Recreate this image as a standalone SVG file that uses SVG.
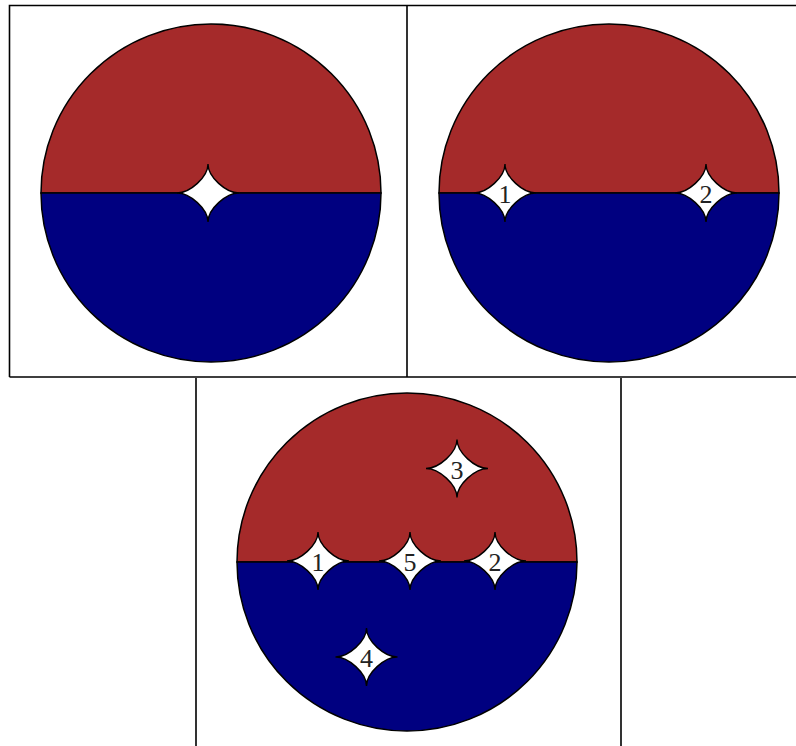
<svg xmlns="http://www.w3.org/2000/svg" width="796" height="746" viewBox="0 0 796 746">
<defs>
<style>
.frame{fill:none;stroke:#000;stroke-width:1.6}
.red{fill:#a52a2a;stroke:#000;stroke-width:1.5}
.blue{fill:#000080;stroke:#000;stroke-width:1.5}
.star{fill:#fff;stroke:#000;stroke-width:1.4}
.lbl{font-family:"Liberation Serif","DejaVu Serif",serif;font-size:26px;fill:#222;text-anchor:middle}
</style>
<path id="starShape" d="M0,-29 C0,-16 18,0 31,0 C18,0 0,16 0,29 C0,16 -18,0 -31,0 C-18,0 0,-16 0,-29 Z"/>
</defs>
<rect width="796" height="746" fill="#fff"/>
<g id="frames">
<path class="frame" d="M9.5,377 V5.5 H796 M9.5,377 H796 M407,5.5 V377 M196,378 V746 M621,378 V746"/>
</g>
<g id="panel1">
<path class="red" d="M41,193 A170,169 0 0 1 381,193 Z"/>
<path class="blue" d="M41,193 A170,169 0 0 0 381,193 Z"/>
<g id="p1star" transform="translate(208,193)"><use href="#starShape" class="star"/></g>
</g>
<g id="panel2">
<path class="red" d="M439,193 A170,169 0 0 1 779,193 Z"/>
<path class="blue" d="M439,193 A170,169 0 0 0 779,193 Z"/>
<g id="p2star1" transform="translate(505,193)"><use href="#starShape" class="star"/><text class="lbl" x="0" y="10">1</text></g>
<g id="p2star2" transform="translate(706,193)"><use href="#starShape" class="star"/><text class="lbl" x="0" y="10">2</text></g>
</g>
<g id="panel3">
<path class="red" d="M237,562 A170,169 0 0 1 577,562 Z"/>
<path class="blue" d="M237,562 A170,169 0 0 0 577,562 Z"/>
<g id="p3star1" transform="translate(318,561)"><use href="#starShape" class="star"/><text class="lbl" x="0" y="10">1</text></g>
<g id="p3star5" transform="translate(410,561)"><use href="#starShape" class="star"/><text class="lbl" x="0" y="10">5</text></g>
<g id="p3star2" transform="translate(495,561)"><use href="#starShape" class="star"/><text class="lbl" x="0" y="10">2</text></g>
<g id="p3star3" transform="translate(457,468.5)"><use href="#starShape" class="star"/><text class="lbl" x="0" y="10">3</text></g>
<g id="p3star4" transform="translate(366.5,657)"><use href="#starShape" class="star"/><text class="lbl" x="0" y="10">4</text></g>
</g>
</svg>
